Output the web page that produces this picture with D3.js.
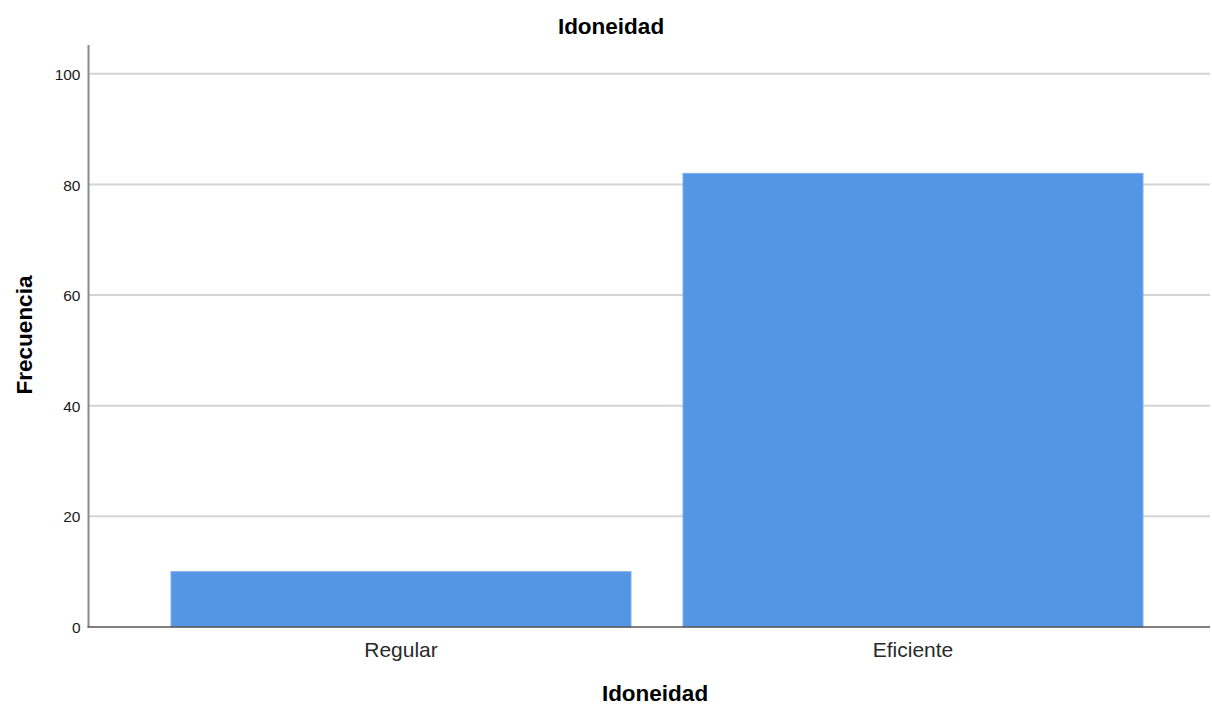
<!DOCTYPE html>
<html><head><meta charset="utf-8">
<script src="https://cdn.jsdelivr.net/npm/d3@7"></script>
<style>body{margin:0;background:#fff}svg{display:block}</style>
</head><body>
<svg id="c" width="1212" height="706"></svg>
<script>
const categories = ["Regular", "Eficiente"];
const values = [10, 82];
const yTicks = [0, 20, 40, 60, 80, 100];
const chartTitle = "Idoneidad";
const xTitle = "Idoneidad";
const yTitle = "Frecuencia";

(function () {
const svg = d3.select("#c");
const font = "Liberation Sans, Arial, sans-serif";
const mLeft = 88.5, mRight = 1210, mBottom = 627, mTop = 45;
const y = d3.scaleLinear().domain([0, 105.2]).range([mBottom, mTop]);
const x = d3.scaleBand().domain(categories).range([145, 1169]).paddingInner(52/512).paddingOuter(26/512);

// gridlines
svg.append("g").selectAll("line").data(yTicks.filter(d => d > 0)).join("line")
  .attr("x1", mLeft).attr("x2", mRight)
  .attr("y1", d => y(d)).attr("y2", d => y(d))
  .attr("stroke", "#d4d4d4").attr("stroke-width", 2);

// bars
svg.append("g").selectAll("rect").data(values).join("rect")
  .attr("x", (d, i) => x(categories[i]))
  .attr("width", x.bandwidth())
  .attr("y", d => y(d))
  .attr("height", d => mBottom - y(d))
  .attr("fill", "#5596e4")
  .attr("stroke", "#7eaeea").attr("stroke-width", 1);

// y axis
const yAxis = d3.axisLeft(y).tickValues(yTicks).tickSize(0).tickPadding(8);
const gy = svg.append("g").attr("transform", `translate(${mLeft},0)`).call(yAxis);
gy.select(".domain").remove();
gy.selectAll("text").attr("font-family", font).attr("font-size", 15.5).attr("fill", "#1a1a1a").attr("dy", "0.36em");
svg.append("line").attr("x1", mLeft).attr("x2", mLeft).attr("y1", mTop).attr("y2", mBottom)
  .attr("stroke", "#8a8a8a").attr("stroke-width", 2);

// x axis
const xAxis = d3.axisBottom(x).tickSize(0).tickPadding(14);
const gx = svg.append("g").attr("transform", `translate(0,${mBottom})`).call(xAxis);
gx.select(".domain").remove();
gx.selectAll("text").attr("font-family", font).attr("font-size", 21).attr("fill", "#2a2a2a")
  .attr("y", 30).attr("dy", 0);
svg.append("line").attr("x1", mLeft - 1).attr("x2", mRight).attr("y1", mBottom).attr("y2", mBottom)
  .attr("stroke", "#555").attr("stroke-width", 1.5);

// titles
svg.append("text").attr("x", 611).attr("y", 34).attr("text-anchor", "middle")
  .attr("font-family", font).attr("font-weight", "bold").attr("font-size", 22.5).text(chartTitle);
svg.append("text").attr("x", 655).attr("y", 701).attr("text-anchor", "middle")
  .attr("font-family", font).attr("font-weight", "bold").attr("font-size", 22.5).text(xTitle);
svg.append("text").attr("transform", "translate(32,335) rotate(-90)").attr("text-anchor", "middle")
  .attr("font-family", font).attr("font-weight", "bold").attr("font-size", 22.5).text(yTitle);
})();
</script>
</body></html>
